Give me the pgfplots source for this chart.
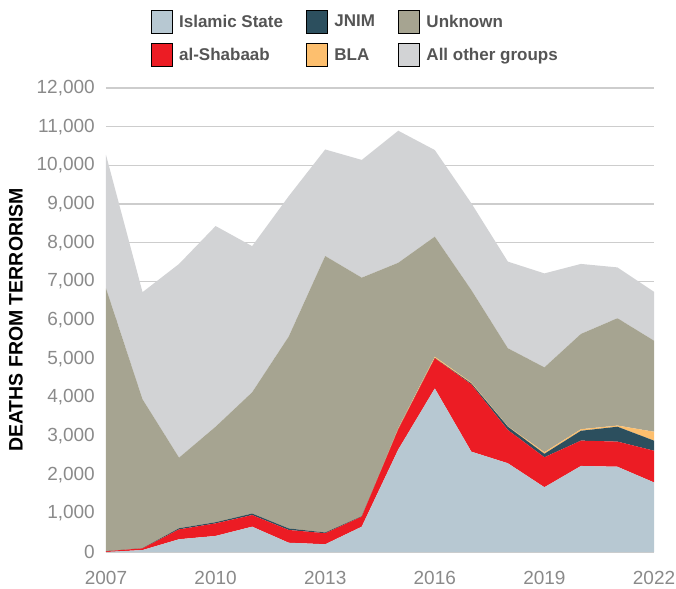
\documentclass[border=0pt]{standalone}
\usepackage{fontspec}
\setmainfont{Liberation Sans}
\usepackage{pgfplots}
\usepackage{pgfplotstable}
\pgfplotsset{compat=1.18}
\definecolor{ISc}{HTML}{B7C8D2}
\definecolor{ASc}{HTML}{EC1C24}
\definecolor{JNc}{HTML}{2C4F5E}
\definecolor{BLc}{HTML}{FDBF6E}
\definecolor{UNc}{HTML}{A6A491}
\definecolor{OTc}{HTML}{D2D3D5}
\definecolor{gridc}{HTML}{CDCDCD}
\definecolor{tickc}{HTML}{8A8A8A}
\definecolor{legc}{HTML}{555555}
\pgfplotstableread{
year IS AS JN BLA UNK OTH
2007 0 20 0 0 6800 3450
2008 50 45 5 0 3850 2770
2009 330 255 30 0 1825 5010
2010 415 325 30 0 2470 5190
2011 655 300 40 0 3135 3780
2012 240 330 40 0 4960 3630
2013 200 285 20 0 7150 2755
2014 655 260 10 0 6170 3045
2015 2650 520 5 25 4280 3415
2016 4230 780 5 35 3105 2240
2017 2595 1740 25 20 2395 2245
2018 2295 860 85 10 2020 2240
2019 1675 775 90 40 2195 2430
2020 2225 655 255 40 2465 1810
2021 2205 650 385 30 2775 1315
2022 1800 820 260 230 2355 1265
}\datatable
\begin{document}
\begin{tikzpicture}
\begin{axis}[
  width=548pt, height=464pt, scale only axis,
  xmin=2007, xmax=2022, ymin=0, ymax=12000,
  xtick={2007,2010,2013,2016,2019,2022},
  ytick={0,1000,...,12000},
  axis line style={draw=none},
  tick style={draw=none},
  ymajorgrids, major grid style={gridc, line width=1.2pt},
  /pgf/number format/assume math mode=true,
  tick label style={font=\fontsize{19pt}{22pt}\selectfont, text=tickc},
  x tick label style={/pgf/number format/1000 sep={}, anchor=north, inner sep=0pt, yshift=-19.5pt},
  y tick label style={/pgf/number format/1000 sep={,}, anchor=east, inner sep=0pt, xshift=-11pt},
  scaled y ticks=false,
  ylabel={DEATHS FROM TERRORISM},
  ylabel style={font=\bfseries\fontsize{19.5pt}{22pt}\selectfont, text=black, at={(axis description cs:-0.1642,0.5)}, anchor=center, inner sep=0pt},
  stack plots=y,
  legend columns=3,
  legend cell align=left,
  legend image code/.code={\fill[#1] (0pt,-11.5pt) rectangle (21pt,11.5pt);},
  legend style={at={(axis description cs:0.0816,1.168)}, anchor=north west, draw=none, fill=none, inner sep=0pt, outer sep=0pt,
    font=\bfseries\fontsize{17pt}{20pt}\selectfont, text=legc,
    nodes={inner sep=0pt},
    row sep=10pt,
    /tikz/every odd column/.append style={column sep=7pt},
    /tikz/every even column/.append style={column sep=23pt}},
]
\addplot[fill=ISc, draw=none, forget plot] table[x=year, y=IS] {\datatable} \closedcycle;
\addplot[fill=ASc, draw=none, forget plot] table[x=year, y=AS] {\datatable} \closedcycle;
\addplot[fill=JNc, draw=none, forget plot] table[x=year, y=JN] {\datatable} \closedcycle;
\addplot[fill=BLc, draw=none, forget plot] table[x=year, y=BLA] {\datatable} \closedcycle;
\addplot[fill=UNc, draw=none, forget plot] table[x=year, y=UNK] {\datatable} \closedcycle;
\addplot[fill=OTc, draw=none, forget plot] table[x=year, y=OTH] {\datatable} \closedcycle;
\addlegendimage{fill=ISc}\addlegendentry{Islamic State}
\addlegendimage{fill=JNc}\addlegendentry{JNIM}
\addlegendimage{fill=UNc}\addlegendentry{Unknown}
\addlegendimage{fill=ASc}\addlegendentry{al-Shabaab}
\addlegendimage{fill=BLc}\addlegendentry{BLA}
\addlegendimage{fill=OTc}\addlegendentry{All other groups}
\coordinate (bl) at (rel axis cs:0,0);
\coordinate (tr) at (rel axis cs:1,1);
\end{axis}
\pgfresetboundingbox
\path[use as bounding box] ([xshift=-106pt,yshift=-36pt]bl) rectangle ([xshift=22pt,yshift=88pt]tr);
\end{tikzpicture}
\end{document}
